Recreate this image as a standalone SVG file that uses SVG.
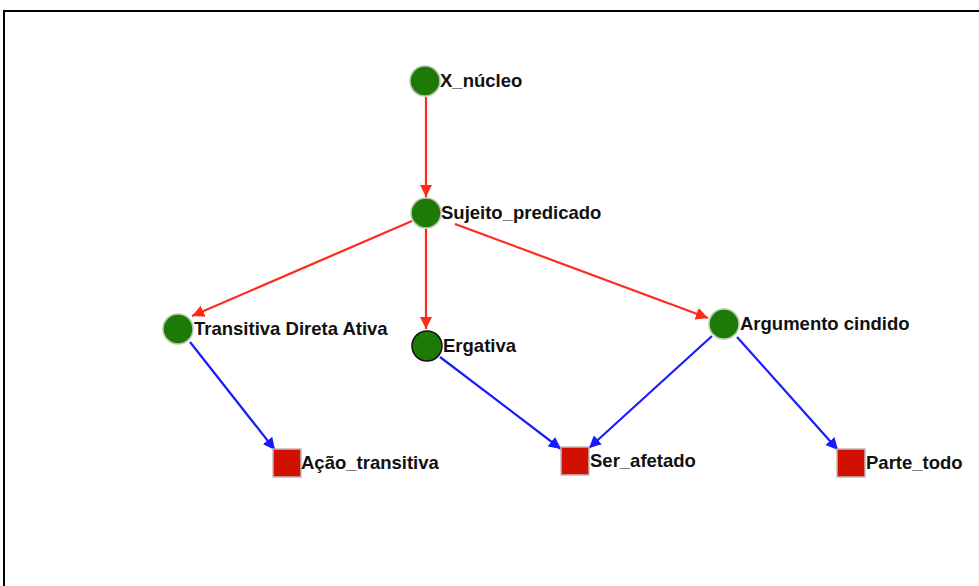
<svg xmlns="http://www.w3.org/2000/svg" width="979" height="586" viewBox="0 0 979 586">
<defs>
<style>
.lbl{font-family:"Liberation Sans",Arial,sans-serif;font-weight:bold;font-size:18.5px;fill:#111}
.c{fill:#1e7a06;stroke:#b8c8b0;stroke-width:1.5}
.sq{fill:#d01000;stroke:#c8b8b8;stroke-width:1.5}
.red{stroke:#ff2a1a;stroke-width:2.2;fill:none;marker-end:url(#ar)}
.blue{stroke:#1a1aff;stroke-width:2.2;fill:none;marker-end:url(#ab)}
</style>
<marker id="ar" viewBox="0 0 10 10" refX="10" refY="5" markerWidth="5.5" markerHeight="5.5" orient="auto" markerUnits="strokeWidth"><path d="M0,0 L10,5 L0,10 z" fill="#ff2a1a"/></marker>
<marker id="ab" viewBox="0 0 10 10" refX="10" refY="5" markerWidth="5.5" markerHeight="5.5" orient="auto" markerUnits="strokeWidth"><path d="M0,0 L10,5 L0,10 z" fill="#1a1aff"/></marker>
</defs>
<rect width="979" height="586" fill="#fff"/>
<path d="M4,590 L4,11 L990,11" fill="none" stroke="#000" stroke-width="2"/>
<g id="edges">
<line class="red" x1="426" y1="97" x2="426" y2="197"/>
<line class="red" x1="412" y1="221" x2="192" y2="316"/>
<line class="red" x1="426" y1="229" x2="426" y2="329"/>
<line class="red" x1="455" y1="224" x2="708" y2="318"/>
<line class="blue" x1="190" y1="342" x2="275" y2="450"/>
<line class="blue" x1="440" y1="357" x2="561" y2="449"/>
<line class="blue" x1="712" y1="336" x2="589" y2="448"/>
<line class="blue" x1="737" y1="337" x2="838" y2="450"/>
</g>
<g id="n-x-nucleo"><circle class="c" cx="425" cy="81" r="15"/><text class="lbl" x="440" y="87">X_núcleo</text></g>
<g id="n-sujeito"><circle class="c" cx="426" cy="213" r="15"/><text class="lbl" x="441" y="219">Sujeito_predicado</text></g>
<g id="n-transitiva"><circle class="c" cx="178" cy="329" r="15"/><text class="lbl" x="194" y="335">Transitiva Direta Ativa</text></g>
<g id="n-ergativa"><circle cx="427" cy="346" r="15" fill="#1e7a06" stroke="#111" stroke-width="1.5"/><text class="lbl" x="443" y="352">Ergativa</text></g>
<g id="n-argumento"><circle class="c" cx="724" cy="324" r="15"/><text class="lbl" x="740" y="330">Argumento cindido</text></g>
<g id="n-acao"><rect class="sq" x="273" y="449" width="28" height="28"/><text class="lbl" x="301" y="469">Ação_transitiva</text></g>
<g id="n-ser"><rect class="sq" x="561" y="447" width="28" height="28"/><text class="lbl" x="590" y="467">Ser_afetado</text></g>
<g id="n-parte"><rect class="sq" x="837" y="449" width="28" height="28"/><text class="lbl" x="866" y="469">Parte_todo</text></g>
</svg>
